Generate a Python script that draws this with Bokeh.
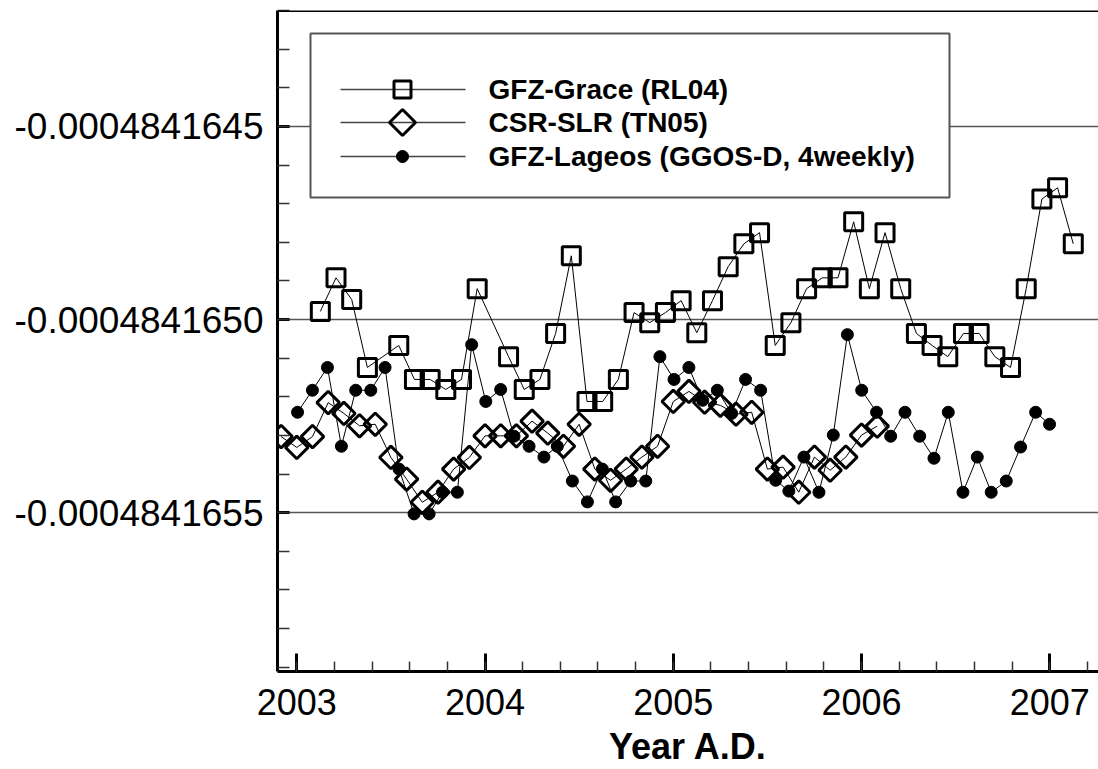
import numpy as np
from bokeh.plotting import figure
from bokeh.models import (FixedTicker, Span, ColumnDataSource, BoxAnnotation,
                          PolyAnnotation, Label)
from bokeh.embed import file_html
from bokeh.resources import INLINE

# ---------------- data ----------------
# C20 values are stored as deviations from -0.0004841650, in units of 1e-13
grace_months = ["2003-02", "2003-03", "2003-04", "2003-05", "2003-07", "2003-08",
                "2003-09", "2003-10", "2003-11", "2003-12",
                "2004-02", "2004-03", "2004-04", "2004-05", "2004-06", "2004-07",
                "2004-08", "2004-09", "2004-10", "2004-11", "2004-12",
                "2005-01", "2005-02", "2005-03", "2005-04", "2005-05", "2005-06",
                "2005-07", "2005-08", "2005-09", "2005-10", "2005-11", "2005-12",
                "2006-01", "2006-02", "2006-03", "2006-04", "2006-05", "2006-06",
                "2006-07", "2006-08", "2006-09", "2006-10", "2006-11", "2006-12",
                "2007-01", "2007-02"]
grace_dc20 = [0.21, 1.08, 0.52, -1.24, -0.67, -1.55, -1.55, -1.81, -1.55, 0.80,
              -0.96, -1.81, -1.55, -0.36, 1.65, -2.12, -2.12, -1.55, 0.18, -0.08, 0.18,
              0.49, -0.34, 0.49, 1.37, 1.96, 2.25, -0.67, -0.08, 0.80, 1.08, 1.08, 2.53,
              0.80, 2.25, 0.80, -0.36, -0.67, -0.96, -0.36, -0.36, -0.96, -1.24, 0.80, 3.12,
              3.41, 1.96]

csr_months = ["2002-12",
              "2003-01", "2003-02", "2003-03", "2003-04", "2003-05", "2003-06",
              "2003-07", "2003-08", "2003-09", "2003-10", "2003-11", "2003-12",
              "2004-01", "2004-02", "2004-03", "2004-04", "2004-05", "2004-06",
              "2004-07", "2004-08", "2004-09", "2004-10", "2004-11", "2004-12",
              "2005-01", "2005-02", "2005-03", "2005-04", "2005-05", "2005-06",
              "2005-07", "2005-08", "2005-09", "2005-10", "2005-11", "2005-12",
              "2006-01", "2006-02"]
csr_dc20 = [-3.03,
            -3.31, -3.03, -2.15, -2.43, -2.75, -2.71, -3.57, -4.13, -4.73, -4.47, -3.87, -3.57,
            -3.01, -3.01, -3.01, -2.63, -2.94, -3.28, -2.71, -3.87, -4.16, -3.87, -3.56, -3.28,
            -2.12, -1.86, -2.14, -2.22, -2.45, -2.40, -3.87, -3.82, -4.47, -3.56, -3.90, -3.56,
            -2.99, -2.76]

lageos_years = [2003.004, 2003.083, 2003.163, 2003.237, 2003.313, 2003.393, 2003.469,
                2003.543, 2003.623, 2003.703, 2003.774, 2003.853, 2003.929,
                2004.004, 2004.083, 2004.154, 2004.234, 2004.313, 2004.384, 2004.464,
                2004.544, 2004.623, 2004.694, 2004.774, 2004.854, 2004.929,
                2005.004, 2005.083, 2005.156, 2005.234, 2005.310, 2005.384, 2005.464,
                2005.544, 2005.614, 2005.694, 2005.774, 2005.850, 2005.925,
                2006.001, 2006.080, 2006.155, 2006.231, 2006.309, 2006.385, 2006.461,
                2006.539, 2006.615, 2006.689, 2006.769, 2006.845, 2006.925, 2006.999]
lageos_dc20 = [-2.40, -1.83, -1.24, -3.28, -1.83, -1.83, -1.24, -3.87, -5.03, -5.03,
               -4.47, -4.47, -0.65, -2.12, -1.81, -3.02, -3.28, -3.56, -3.28, -4.18,
               -4.72, -3.87, -4.72, -4.18, -4.18, -0.96, -1.55, -1.24, -2.09, -1.83,
               -2.43, -1.55, -1.83, -4.16, -4.44, -3.56, -4.47, -2.99, -0.39, -1.83,
               -2.40, -3.02, -2.40, -3.02, -3.59, -2.40, -4.47, -3.56, -4.47, -4.18,
               -3.30, -2.40, -2.71]

series_labels = ["GFZ-Grace (RL04)", "CSR-SLR (TN05)", "GFZ-Lageos (GGOS-D, 4weekly)"]
x_major_ticks = [2003, 2004, 2005, 2006, 2007]
x_tick_labels = ["2003", "2004", "2005", "2006", "2007"]
y_major_ticks = [5, 0, -5]
y_tick_labels = ["-0.0004841645", "-0.0004841650", "-0.0004841655"]
x_label = "Year A.D."


def mid_month(s):
    y, m = map(int, s.split("-"))
    return y + (m - 0.5) / 12.0


def start_month(s):
    y, m = map(int, s.split("-"))
    return y + (m - 1) / 12.0


grace_src = ColumnDataSource(dict(x=[mid_month(s) for s in grace_months], y=grace_dc20))
csr_src = ColumnDataSource(dict(x=[start_month(s) for s in csr_months], y=csr_dc20))
lag_src = ColumnDataSource(dict(x=lageos_years, y=lageos_dc20))

# ---------------- figure ----------------
X0, X1 = 2002.8975, 2007.259
Y0, Y1 = -9.11, 8.0
FONT = "Liberation Sans"

p = figure(width=1098, height=769, x_range=(X0, X1), y_range=(Y0, Y1),
           output_backend="svg", toolbar_location=None,
           min_border_left=277, min_border_right=0, min_border_top=10,
           min_border_bottom=96)
p.outline_line_color = None
p.background_fill_color = "white"
p.border_fill_color = "white"

x_minor = [round(2003 + 0.2 * i, 1) for i in range(0, 22)]
y_minor = list(range(-9, 9))

xax = p.xaxis[0]
xax.ticker = FixedTicker(ticks=x_major_ticks, minor_ticks=x_minor)
xax.major_label_overrides = {t: s for t, s in zip(x_major_ticks, x_tick_labels)}
yax = p.yaxis[0]
yax.ticker = FixedTicker(ticks=y_major_ticks, minor_ticks=y_minor)
yax.major_label_overrides = {t: s for t, s in zip(y_major_ticks, y_tick_labels)}

for ax in (xax, yax):
    ax.axis_line_width = 3
    ax.axis_line_color = "black"
    ax.major_tick_out = 0
    ax.minor_tick_out = 0
    ax.major_tick_line_width = 3
    ax.minor_tick_line_width = 1.5
    ax.major_tick_line_color = "black"
    ax.minor_tick_line_color = "#333333"
    ax.major_label_text_font = FONT
    ax.major_label_text_color = "black"

xax.major_label_text_font_size = "36px"
yax.major_label_text_font_size = "37px"

xax.major_tick_in = 18
xax.minor_tick_in = 10
xax.major_label_standoff = 17
xax.axis_label = x_label
xax.axis_label_text_font = FONT
xax.axis_label_text_font_style = "bold"
xax.axis_label_text_font_size = "36px"
xax.axis_label_text_color = "black"
xax.axis_label_standoff = 8

yax.major_tick_in = 12
yax.minor_tick_in = 12
yax.major_label_standoff = 14

p.xgrid.grid_line_color = None
p.ygrid.ticker = yax.ticker
p.ygrid.grid_line_color = "#555555"
p.ygrid.grid_line_width = 1.5

p.add_layout(Span(location=Y1, dimension="width", line_color="black", line_width=3))

# ---------------- series ----------------
p.line("x", "y", source=grace_src, line_color="black", line_width=1)
p.line("x", "y", source=csr_src, line_color="black", line_width=1)
p.line("x", "y", source=lag_src, line_color="black", line_width=1)

p.scatter("x", "y", source=lag_src, marker="circle", size=12,
          fill_color="black", line_color="black", line_width=1)
p.scatter("x", "y", source=csr_src, marker="square", size=16, angle=np.pi / 4,
          fill_color=None, line_color="black", line_width=3)
p.scatter("x", "y", source=grace_src, marker="square", size=18,
          fill_color=None, line_color="black", line_width=3)

# ---------------- legend (drawn in canvas pixels) ----------------
LEG_L, LEG_R, LEG_T, LEG_B = 310, 949, 33, 197
ROW_Y = [89, 122, 156]
LINE_X0, LINE_X1, MARK_X, TEXT_X = 340, 465, 402, 488

p.add_layout(BoxAnnotation(left=LEG_L, right=LEG_R, top=LEG_T, bottom=LEG_B,
                           left_units="canvas", right_units="canvas",
                           top_units="canvas", bottom_units="canvas",
                           fill_color="white", fill_alpha=1.0,
                           line_color="#555555", line_width=2, line_alpha=1.0))


def poly(xs, ys, fill=None, lw=3):
    return PolyAnnotation(xs=list(xs), ys=list(ys), xs_units="canvas", ys_units="canvas",
                          line_color="black", line_width=lw, line_alpha=1.0,
                          fill_color=fill if fill else "white",
                          fill_alpha=1.0 if fill else 0.0)


for ry in ROW_Y:
    p.add_layout(PolyAnnotation(xs=[LINE_X0, LINE_X1], ys=[ry, ry],
                                xs_units="canvas", ys_units="canvas",
                                line_color="#444444", line_width=1.5, line_alpha=1.0,
                                fill_alpha=0.0))

h = 8.5  # square half side
p.add_layout(poly([MARK_X - h, MARK_X + h, MARK_X + h, MARK_X - h],
                  [ROW_Y[0] - h, ROW_Y[0] - h, ROW_Y[0] + h, ROW_Y[0] + h]))
d = 13  # diamond half diagonal
p.add_layout(poly([MARK_X, MARK_X + d, MARK_X, MARK_X - d],
                  [ROW_Y[1] - d, ROW_Y[1], ROW_Y[1] + d, ROW_Y[1]]))
ang = np.linspace(0, 2 * np.pi, 24, endpoint=False)
p.add_layout(poly(MARK_X + 6 * np.cos(ang), ROW_Y[2] + 6 * np.sin(ang), fill="black", lw=1))

for ry, lab in zip(ROW_Y, series_labels):
    p.add_layout(Label(x=TEXT_X, y=ry, x_units="canvas", y_units="canvas", text=lab,
                       text_baseline="middle", text_align="left",
                       text_font=FONT, text_font_style="bold",
                       text_font_size="28px", text_color="black"))

open("out.html", "w").write(file_html(p, INLINE))
